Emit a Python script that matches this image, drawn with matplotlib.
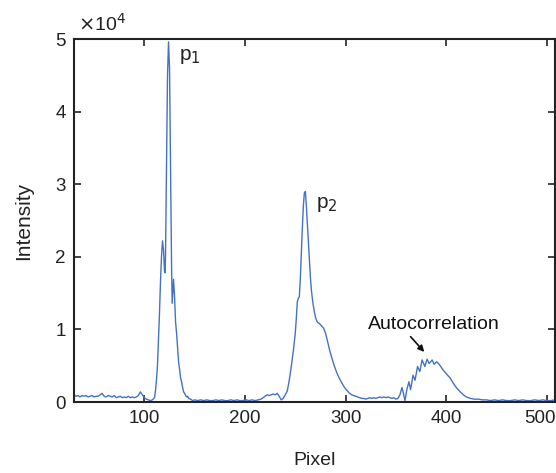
import matplotlib
matplotlib.use("Agg")
import matplotlib.pyplot as plt
from matplotlib.transforms import ScaledTranslation

plt.rcParams['font.family'] = ['Liberation Sans', 'DejaVu Sans']

# pixel position and intensity (intensity in units of 1e4)
pixel = [30, 32, 34, 36, 38, 40, 42, 44, 46, 48, 50, 52, 54, 56, 58, 60, 62, 64, 66, 68,
         70, 72, 74, 76, 78, 80, 82, 84, 86, 88, 90, 92, 94, 96, 98, 100, 102, 104, 106, 108,
         110, 111, 112, 113, 114, 115, 116, 117, 118, 119, 120, 120.6, 121, 122, 123, 124,
         125, 126, 127, 127.6, 128, 129, 130, 131, 132, 133, 134, 135, 136, 137, 138, 139,
         140, 141, 142, 143, 144, 146, 148, 150, 153, 156, 159, 162, 165, 168, 171, 174,
         177, 180, 183, 186, 189, 192, 195, 198, 201, 204, 207, 210, 213, 216, 218, 220,
         222, 224, 226, 228, 230, 232, 234, 236, 238, 240, 242, 244, 246, 248, 250, 251,
         252, 253, 254, 255, 256, 257, 258, 259, 260, 261, 262, 263, 264, 265, 266, 267,
         268, 269, 270, 271, 272, 274, 276, 278, 280, 282, 284, 286, 288, 290, 292, 294,
         296, 298, 300, 302, 304, 306, 308, 310, 312, 314, 316, 318, 320, 322, 324, 326,
         328, 330, 332, 334, 336, 338, 340, 342, 344, 346, 348, 350, 352, 354, 356, 357,
         359, 361, 363, 364.6, 367, 369, 371.5, 373.8, 376, 378.8, 381, 383, 386, 388,
         390.5, 393, 395, 397, 400, 404, 407, 410.5, 414, 417, 420, 424, 428, 432, 436,
         440, 444, 448, 452, 456, 460, 464, 468, 472, 476, 480, 484, 488, 492, 496, 500,
         504, 508]
intensity = [0.10, 0.08, 0.09, 0.07, 0.09, 0.08, 0.09, 0.07, 0.08, 0.09, 0.07, 0.08, 0.08,
             0.10, 0.12, 0.08, 0.07, 0.09, 0.08, 0.07, 0.09, 0.06, 0.07, 0.08, 0.06, 0.07,
             0.06, 0.08, 0.06, 0.07, 0.06, 0.07, 0.09, 0.14, 0.10, 0.06, 0.04, 0.03, 0.02,
             0.03, 0.06, 0.15, 0.30, 0.50, 0.85, 1.22, 1.65, 2.00, 2.22, 2.10, 1.80, 1.78,
             2.00, 3.20, 4.50, 4.96, 4.60, 3.20, 1.90, 1.36, 1.45, 1.69, 1.45, 1.10, 0.95,
             0.75, 0.55, 0.45, 0.33, 0.28, 0.20, 0.14, 0.12, 0.09, 0.07, 0.08, 0.05, 0.04,
             0.02, 0.03, 0.02, 0.03, 0.02, 0.03, 0.02, 0.02, 0.03, 0.02, 0.03, 0.02, 0.02,
             0.03, 0.02, 0.03, 0.02, 0.02, 0.03, 0.02, 0.03, 0.02, 0.03, 0.04, 0.06, 0.08,
             0.10, 0.09, 0.10, 0.11, 0.10, 0.12, 0.08, 0.03, 0.05, 0.10, 0.15, 0.30, 0.49,
             0.70, 0.95, 1.15, 1.38, 1.43, 1.45, 1.70, 2.05, 2.40, 2.70, 2.88, 2.90, 2.70,
             2.45, 2.20, 1.95, 1.72, 1.54, 1.42, 1.32, 1.24, 1.17, 1.13, 1.10, 1.08, 1.05,
             1.02, 0.95, 0.84, 0.72, 0.62, 0.53, 0.45, 0.38, 0.32, 0.27, 0.22, 0.18, 0.15,
             0.12, 0.10, 0.09, 0.08, 0.07, 0.06, 0.05, 0.05, 0.04, 0.05, 0.06, 0.05, 0.06,
             0.05, 0.06, 0.07, 0.06, 0.07, 0.06, 0.07, 0.06, 0.05, 0.06, 0.04, 0.05, 0.10,
             0.20, 0.15, 0.02, 0.18, 0.28, 0.17, 0.37, 0.30, 0.49, 0.42, 0.58, 0.49, 0.59,
             0.53, 0.58, 0.52, 0.555, 0.52, 0.48, 0.44, 0.39, 0.33, 0.26, 0.19, 0.14, 0.10,
             0.07, 0.05, 0.04, 0.04, 0.03, 0.03, 0.02, 0.03, 0.02, 0.03, 0.02, 0.02, 0.03,
             0.02, 0.03, 0.02, 0.02, 0.03, 0.02, 0.03, 0.02, 0.02, 0.03]
intensity = [v * 1e4 for v in intensity]

xticks = [100, 200, 300, 400, 500]
yticks = [0, 1e4, 2e4, 3e4, 4e4, 5e4]
ytick_labels = ['0', '1', '2', '3', '4', '5']

fig = plt.figure(figsize=(5.56, 4.73), dpi=100)
ax = fig.add_axes([0.133, 0.150, 0.865, 0.7675])

ax.plot(pixel, intensity, color='#4472C4', lw=1.0)

ax.set_xlim(30, 508)
ax.set_ylim(0, 5e4)
ax.set_xticks(xticks)
ax.set_yticks(yticks)
ax.set_yticklabels(ytick_labels)
ax.tick_params(direction='in', length=5, width=1.2, top=True, right=True,
               labelsize=13.5, colors='#222222', pad=6)
for s in ax.spines.values():
    s.set_linewidth(1.5)
    s.set_color('#222222')

# last x label sits right at the figure edge, nudge it left so it is not clipped
last = ax.get_xticklabels()[-1]
last.set_transform(last.get_transform() + ScaledTranslation(-0.07, 0, fig.dpi_scale_trans))

ax.set_xlabel('Pixel', fontsize=14, color='#222222', labelpad=18)
ax.set_ylabel('Intensity', fontsize=15, color='#222222', labelpad=16)

fig.text(0.14, 0.95, r'$\times$10$^4$', fontsize=14, color='#222222',
         ha='left', va='center')

ax.text(134.5, 4.76e4, 'p$_1$', fontsize=15, color='#222222', ha='left', va='center')
ax.text(271, 2.72e4, 'p$_2$', fontsize=15, color='#222222', ha='left', va='center')
ax.text(388, 1.07e4, 'Autocorrelation', fontsize=14, color='#111111',
        ha='center', va='center')
ax.annotate('', xy=(378.2, 0.69e4), xytext=(364.6, 0.90e4),
            arrowprops=dict(arrowstyle='-|>', color='#111111', lw=1.2,
                            mutation_scale=9, shrinkA=0, shrinkB=0))

fig.savefig('out.png', dpi=100)
